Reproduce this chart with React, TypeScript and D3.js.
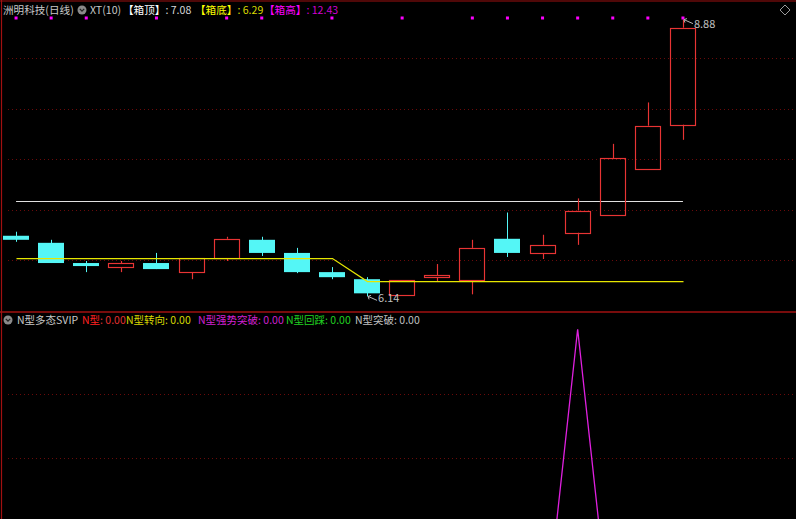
import React from "react";
import * as d3 from "d3";

const W = 796;
const H = 519;

// OHLC per trading day
const openV = [6.74, 6.67, 6.47, 6.43, 6.47, 6.38, 6.52, 6.70, 6.57, 6.38, 6.31, 6.15, 6.33, 6.30, 6.71, 6.57, 6.77, 6.95, 7.40, 7.84];
const highV = [6.78, 6.70, 6.49, 6.49, 6.57, 6.52, 6.73, 6.73, 6.62, 6.43, 6.33, 6.30, 6.46, 6.70, 6.97, 6.75, 7.11, 7.65, 8.06, 8.88];
const lowV = [6.68, 6.47, 6.38, 6.38, 6.41, 6.31, 6.49, 6.54, 6.37, 6.31, 6.14, 6.15, 6.29, 6.16, 6.53, 6.51, 6.65, 6.95, 7.40, 7.69];
const closeV = [6.70, 6.47, 6.44, 6.47, 6.41, 6.52, 6.71, 6.57, 6.38, 6.33, 6.17, 6.30, 6.35, 6.62, 6.57, 6.65, 6.99, 7.51, 7.83, 8.80];
// box bottom (yellow) line, box top (white) level
const boxBottom = [6.52, 6.52, 6.52, 6.52, 6.52, 6.52, 6.52, 6.52, 6.52, 6.52, 6.29, 6.29, 6.29, 6.29, 6.29, 6.29, 6.29, 6.29, 6.29, 6.29];
const boxTop = 7.08;
// magenta marker dots (1 = shown)
const dots = [1, 1, 1, 0, 1, 0, 1, 1, 0, 1, 0, 1, 0, 1, 1, 1, 1, 1, 1, 1];
// indicator series (N型强势突破)
const nSignal = [0, 0, 0, 0, 0, 0, 0, 0, 0, 0, 0, 0, 0, 0, 0, 0, 1, 0, 0, 0];
const mainGrid = [6.5, 7.0, 7.5, 8.0, 8.5];
const subGrid = [0.6, 0.8];

const FONT = "'Noto Sans CJK SC', 'Noto Sans', sans-serif";
const UP = "#e83434";
const DOWN = "#54f6f6";
const GRID = "#6a0a0a";

export default function App() {
  const n = openV.length;
  const x = d3.scaleBand<number>().domain(d3.range(n)).range([-1.5, 700.5]).paddingInner(0.26).paddingOuter(0.13);
  const cx = (i: number) => (x(i) as number) + x.bandwidth() / 2;
  const y = d3.scaleLinear().domain([6.0, 9.0]).range([310.5, 7.5]);
  const y2 = d3.scaleLinear().domain([0, 1]).range([651, 329.3]);
  const bw = x.bandwidth();
  const snap = (v: number) => Math.round(v) + 0.5;

  const yellowPath = d3.line<number>().x((_, i) => snap(cx(i))).y((d) => snap(y(d)))(boxBottom) || "";
  const sigPath = d3.line<number>().x((_, i) => cx(i)).y((d) => y2(d))(nSignal) || "";

  const iMax = d3.maxIndex(highV);
  const iMin = d3.minIndex(lowV);
  const mx = cx(iMax), my = y(highV[iMax]);
  const nx = cx(iMin), ny = y(lowV[iMin]);

  const arrow = (ax: number, ay: number) =>
    `M${ax + 10},${ay + 4} L${ax + 1},${ay} M${ax + 1},${ay} L${ax + 4},${ay - 1} M${ax + 1},${ay} L${ax + 2},${ay + 3}`;

  return (
    <svg width={W} height={H} style={{ position: "absolute", left: 0, top: 0, background: "#000" }} fontFamily={FONT}>
      <defs>
        <clipPath id="mainClip"><rect x={2} y={2} width={W} height={309} /></clipPath>
        <clipPath id="subClip"><rect x={2} y={313} width={W} height={H - 313} /></clipPath>
      </defs>
      <rect x={0} y={0} width={W} height={H} fill="#000" />
      {/* borders */}
      <line x1={0} x2={W} y1={1} y2={1} stroke="#a01010" strokeWidth={1.2} />
      <line x1={1.5} x2={1.5} y1={0} y2={H} stroke="#a01010" strokeWidth={1.2} />
      <line x1={0} x2={W} y1={312} y2={312} stroke="#a01010" strokeWidth={1.5} />

      {/* grid */}
      {mainGrid.map((g) => (
        <line key={"g" + g} x1={8} x2={W} y1={snap(y(g))} y2={snap(y(g))} stroke={GRID} strokeDasharray="1 3" />
      ))}
      {subGrid.map((g) => (
        <line key={"s" + g} x1={8} x2={W} y1={snap(y2(g))} y2={snap(y2(g))} stroke={GRID} strokeDasharray="1 3" />
      ))}

      <g clipPath="url(#mainClip)">
        {/* box top */}
        <line x1={cx(0)} x2={cx(n - 1)} y1={snap(y(boxTop))} y2={snap(y(boxTop))} stroke="#e0e0e0" strokeWidth={1} />
        {/* candles */}
        {openV.map((o, i) => {
          const c = closeV[i];
          const up = c >= o;
          const top = y(Math.max(o, c));
          const bot = y(Math.min(o, c));
          const xc = Math.round(cx(i)) + 0.5;
          const x0 = Math.round(x(i) as number) + 0.5;
          const w = Math.round(bw) - 1;
          if (up) {
            return (
              <g key={i} stroke={UP} fill="none" strokeWidth={1.15}>
                <line x1={xc} x2={xc} y1={y(highV[i])} y2={top} />
                <line x1={xc} x2={xc} y1={bot} y2={y(lowV[i])} />
                <rect x={x0} y={snap(top)} width={w} height={Math.max(1, Math.round(bot - top))} />
              </g>
            );
          }
          return (
            <g key={i}>
              <line x1={xc} x2={xc} y1={y(highV[i])} y2={y(lowV[i])} stroke={DOWN} />
              <rect x={x0 - 0.5} y={top} width={w + 1} height={Math.max(1, bot - top)} fill={DOWN} />
            </g>
          );
        })}
        {/* box bottom */}
        <path d={yellowPath} fill="none" stroke="#e6e600" strokeWidth={1.25} />
        {/* dots */}
        {dots.map((d, i) => d ? <rect key={"d" + i} x={cx(i) - 1.5} y={16.5} width={3} height={3} fill="#ff00ff" /> : null)}
        {/* extreme labels */}
        <path d={arrow(mx, my)} stroke="#b8b8b8" fill="none" strokeWidth={1} />
        <text x={mx + 11} y={my + 8.5} fill="#c0c0c0" fontSize={11}>{highV[iMax].toFixed(2)}</text>
        <path d={arrow(nx, ny)} stroke="#b8b8b8" fill="none" strokeWidth={1} />
        <text x={nx + 11} y={ny + 6} fill="#c0c0c0" fontSize={11}>{lowV[iMin].toFixed(2)}</text>
      </g>

      <g clipPath="url(#subClip)">
        <path d={sigPath} fill="none" stroke="#e020e0" strokeWidth={1.3} />
      </g>

      {/* top legend */}
      <g fontSize={10.6}>
        <text x={3} y={14} fill="#c8c8c8">洲明科技(日线)</text>
        <circle cx={82} cy={10} r={4.5} fill="#8a8a8a" />
        <path d="M79.8,8.9 L82,11.1 L84.2,8.9" stroke="#222" strokeWidth={1.3} fill="none" />
        <text x={90} y={14} fill="#c8c8c8">XT(10)</text>
        <text x={123} y={14} fill="#ffffff">【箱顶】<tspan fill="#d8d8d8">: 7.08</tspan></text>
        <text x={195} y={14} fill="#ffff00">【箱底】<tspan fill="#d8d800">: 6.29</tspan></text>
        <text x={264} y={14} fill="#ff00ff">【箱高】<tspan fill="#d000d0">: 12.43</tspan></text>
      </g>
      {/* diamond icon */}
      <path d="M785,5 L790,10 L785,15 L780,10 Z" fill="none" stroke="#9a9a9a" strokeWidth={1} />

      {/* bottom legend */}
      <g fontSize={10.5}>
        <circle cx={8} cy={320} r={4.5} fill="#8a8a8a" />
        <path d="M5.8,318.9 L8,321.1 L10.2,318.9" stroke="#222" strokeWidth={1.3} fill="none" />
        <text x={17} y={324} fill="#c8c8c8">N型多态SVIP</text>
        <text x={82} y={324} fill="#ff2020">N型<tspan fill="#e03030">: 0.00</tspan></text>
        <text x={126} y={324} fill="#d8d800">N型转向: 0.00</text>
        <text x={198} y={324} fill="#d020d0">N型强势突破: 0.00</text>
        <text x={286} y={324} fill="#20d020">N型回踩: 0.00</text>
        <text x={355} y={324} fill="#c0c0c0">N型突破: 0.00</text>
      </g>
    </svg>
  );
}
